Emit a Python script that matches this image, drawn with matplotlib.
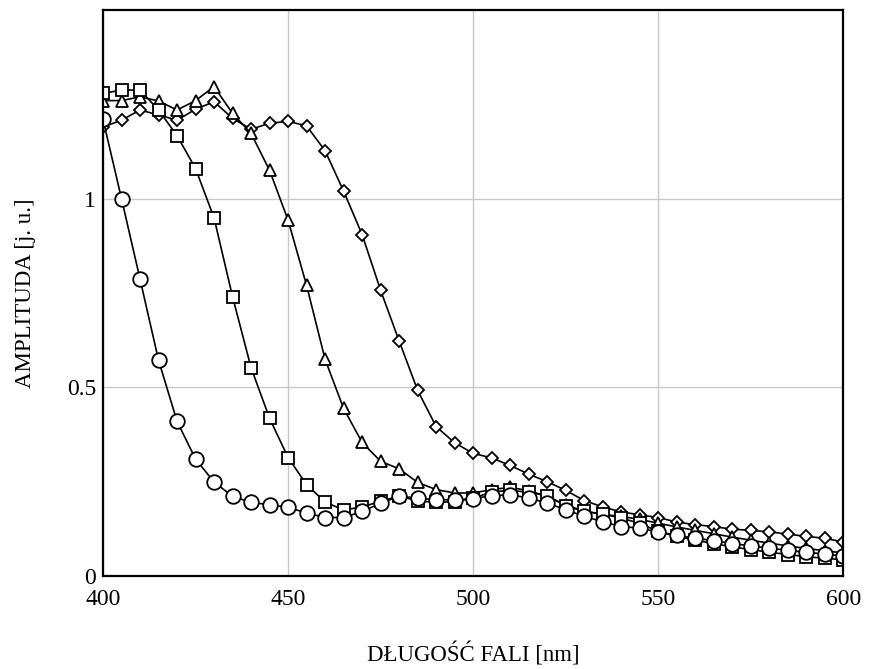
import matplotlib
matplotlib.use('Agg')
import matplotlib.pyplot as plt

plt.rcParams['font.family'] = ['Liberation Serif', 'DejaVu Serif']

# wavelength [nm]
wl = [400, 405, 410, 415, 420, 425, 430, 435, 440, 445,
      450, 455, 460, 465, 470, 475, 480, 485, 490, 495,
      500, 505, 510, 515, 520, 525, 530, 535, 540, 545,
      550, 555, 560, 565, 570, 575, 580, 585, 590, 595, 600]

circ = [1.21, 1.0, 0.787, 0.572, 0.41, 0.31, 0.249, 0.211, 0.195, 0.189,
        0.182, 0.167, 0.155, 0.155, 0.171, 0.193, 0.211, 0.207, 0.202, 0.202,
        0.205, 0.213, 0.215, 0.207, 0.193, 0.176, 0.158, 0.144, 0.131, 0.127,
        0.117, 0.108, 0.1, 0.094, 0.086, 0.08, 0.074, 0.068, 0.063, 0.058, 0.053]

sq = [1.279, 1.288, 1.288, 1.235, 1.167, 1.08, 0.949, 0.74, 0.552, 0.418,
      0.314, 0.242, 0.196, 0.175, 0.183, 0.198, 0.212, 0.199, 0.195, 0.197,
      0.206, 0.223, 0.227, 0.222, 0.213, 0.186, 0.171, 0.165, 0.153, 0.14,
      0.118, 0.105, 0.095, 0.086, 0.077, 0.07, 0.063, 0.057, 0.051, 0.047, 0.043]

tri = [1.26, 1.26, 1.27, 1.259, 1.235, 1.26, 1.297, 1.226, 1.173, 1.075,
       0.943, 0.77, 0.574, 0.444, 0.354, 0.304, 0.284, 0.248, 0.229, 0.22,
       0.22, 0.229, 0.235, 0.226, 0.211, 0.188, 0.172, 0.163, 0.158, 0.15,
       0.14, 0.13, 0.121, 0.112, 0.103, 0.095, 0.087, 0.08, 0.073, 0.067, 0.061]

dia = [1.19, 1.208, 1.235, 1.222, 1.208, 1.237, 1.257, 1.213, 1.184, 1.2,
       1.205, 1.193, 1.127, 1.02, 0.905, 0.757, 0.623, 0.492, 0.396, 0.353,
       0.325, 0.313, 0.293, 0.27, 0.25, 0.227, 0.2, 0.183, 0.17, 0.162,
       0.155, 0.143, 0.136, 0.131, 0.124, 0.121, 0.117, 0.111, 0.105, 0.1, 0.09]

xticks = [400, 450, 500, 550, 600]
yticks = [0, 0.5, 1]
yticklabels = ['0', '0.5', '1']

fig = plt.figure(figsize=(8.73, 6.69), dpi=100)
ax = fig.add_axes([0.118, 0.139, 0.848, 0.846])

style = dict(color='black', lw=1.2, mfc='white', mec='black', mew=1.3)
ax.plot(wl, dia, marker='D', ms=6.5, **style)
ax.plot(wl, tri, marker='^', ms=8.5, **style)
ax.plot(wl, sq, marker='s', ms=8.5, **style)
ax.plot(wl, circ, marker='o', ms=10.5, **style)

ax.set_xlim(400, 600)
ax.set_ylim(0, 1.5)
ax.set_xticks(xticks)
ax.set_yticks(yticks)
ax.set_yticklabels(yticklabels)
ax.tick_params(length=0, labelsize=17)
ax.tick_params(axis='x', pad=9)
ax.tick_params(axis='y', pad=5)
ax.grid(True, color='#c8c8c8', lw=1)
ax.set_axisbelow(True)
for sp in ax.spines.values():
    sp.set_linewidth(1.6)

ax.set_xlabel('DŁUGOŚĆ FALI [nm]', fontsize=16.5, labelpad=24)
ax.set_ylabel('AMPLITUDA [j. u.]', fontsize=16.5, labelpad=22)

plt.savefig('out.png', dpi=100)
